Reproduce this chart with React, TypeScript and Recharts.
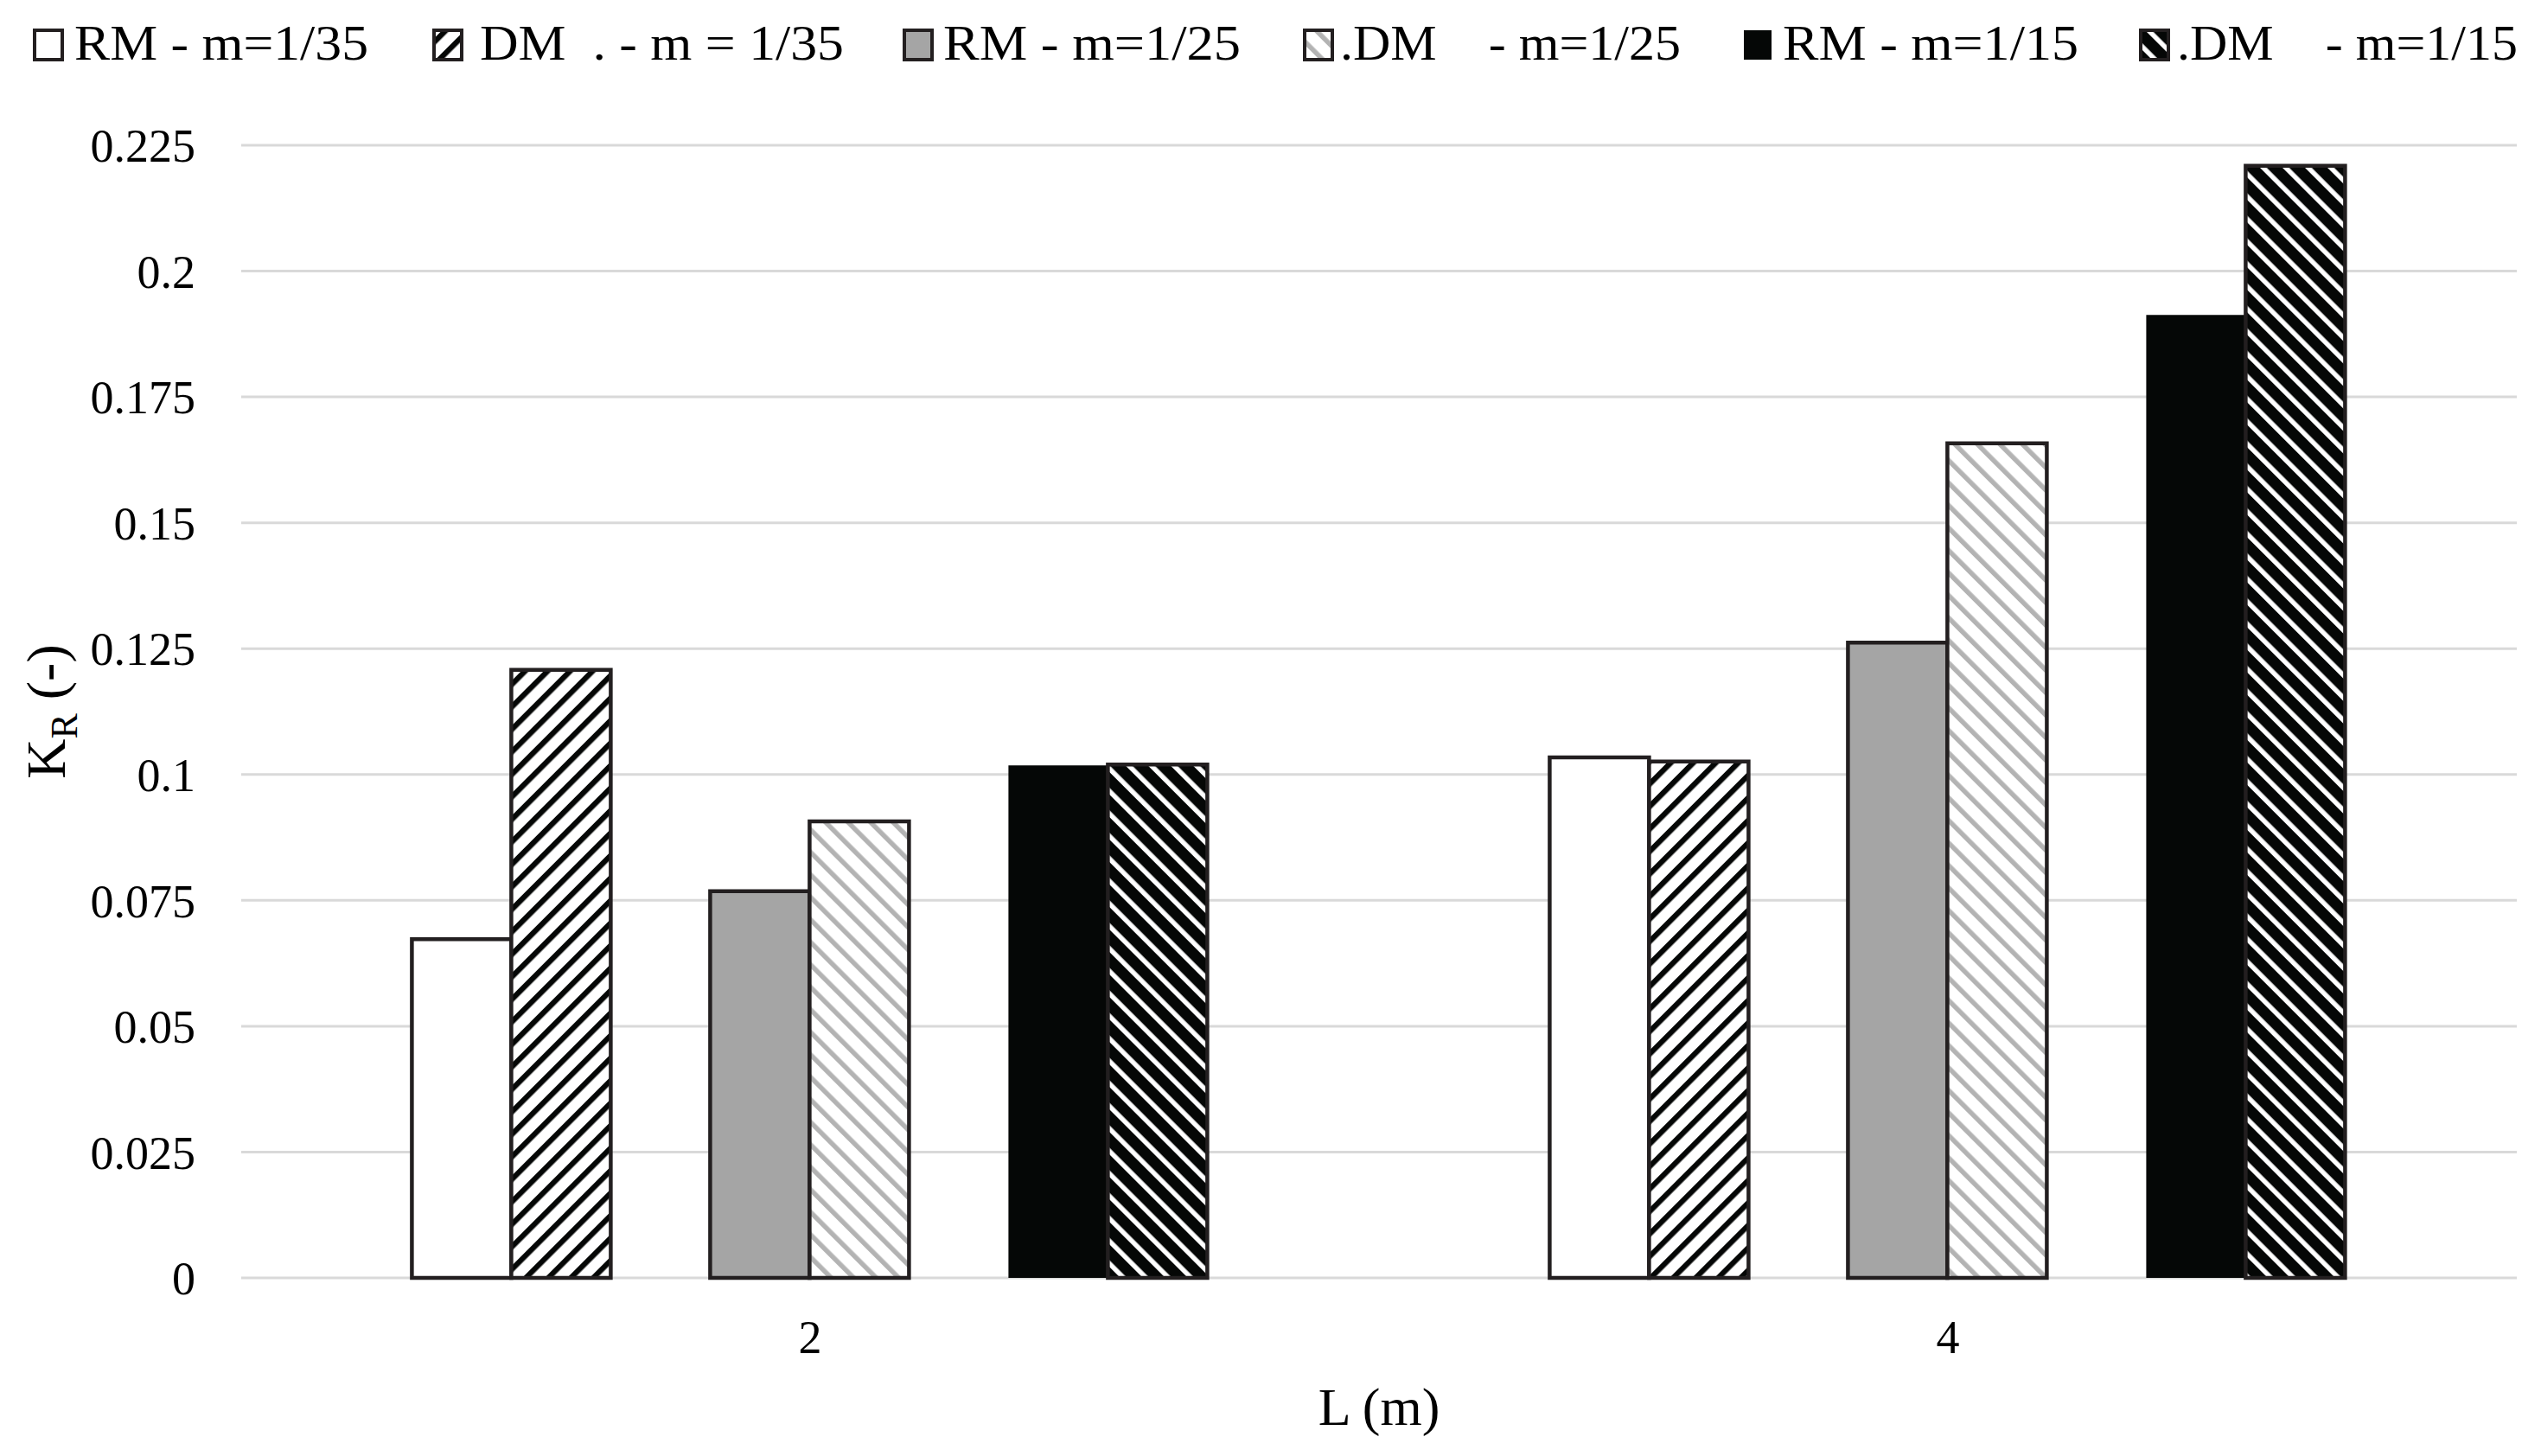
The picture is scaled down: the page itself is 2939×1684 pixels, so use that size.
import React from "react";
import { BarChart, Bar, XAxis, YAxis, CartesianGrid, Label } from "recharts";

// ---- data ----
const categories = ["2", "4"];
const rm35 = [0.0673, 0.1034];
const dm35 = [0.1208, 0.1026];
const rm25 = [0.0768, 0.1262];
const dm25 = [0.0907, 0.1658];
const rm15 = [0.1018, 0.1913];
const dm15 = [0.102, 0.2209];
const yTicks = [0, 0.025, 0.05, 0.075, 0.1, 0.125, 0.15, 0.175, 0.2, 0.225];
const legendLabels = [
  "RM - m=1/35",
  "DM  . - m = 1/35",
  "RM - m=1/25",
  ".DM    - m=1/25",
  "RM - m=1/15",
  ".DM    - m=1/15",
];

const data = categories.map((c, i) => ({
  L: c,
  rm35: rm35[i],
  dm35: dm35[i],
  rm25: rm25[i],
  dm25: dm25[i],
  rm15: rm15[i],
  dm15: dm15[i],
}));

// ---- styles / layout ----
const W = 2939;
const H = 1684;
const FONT = '"Liberation Serif", "DejaVu Serif", serif';
const STROKE = "#231f20";
const BLACK = "#050706";
const GRAY = "#a5a5a5";
const LIGHT = "#b3b3b3";
const GRID = "#d9d9d9";

const legendFills = [
  "#ffffff",
  "url(#lg-up)",
  GRAY,
  "url(#lg-gray)",
  BLACK,
  "url(#lg-dark)",
];
const legendSwatchX = [40, 502, 1046, 1509, 2017, 2476];
const legendTextX = [86, 555, 1091, 1550, 2062, 2518];
const legendTextW = [340, 421, 344, 394, 342, 394];

const P = 18.4;

function patternDefs(prefix: string) {
  return [
    <pattern
      key="up"
      id={`${prefix}-up`}
      patternUnits="userSpaceOnUse"
      width={P}
      height={P}
      patternTransform="rotate(45)"
    >
      <rect width={P} height={P} fill="#ffffff" />
      <rect width={6.3} height={P} fill={BLACK} />
    </pattern>,
    <pattern
      key="gray"
      id={`${prefix}-gray`}
      patternUnits="userSpaceOnUse"
      width={P}
      height={P}
      patternTransform="rotate(-45)"
    >
      <rect width={P} height={P} fill="#ffffff" />
      <rect width={5.5} height={P} fill={LIGHT} />
    </pattern>,
    <pattern
      key="dark"
      id={`${prefix}-dark`}
      patternUnits="userSpaceOnUse"
      width={P}
      height={P}
      patternTransform="rotate(-45)"
    >
      <rect width={P} height={P} fill={BLACK} />
      <rect width={5.5} height={P} fill="#ffffff" />
    </pattern>,
  ];
}

function LegendRow() {
  return (
    <svg
      width={W}
      height={110}
      style={{ position: "absolute", left: 0, top: 0, fontFamily: FONT }}
    >
      <defs>{patternDefs("lg")}</defs>
      {legendLabels.map((lab, i) => (
        <g key={lab + i}>
          <rect
            x={legendSwatchX[i]}
            y={35}
            width={32}
            height={34}
            fill={legendFills[i]}
            stroke={i === 4 ? "none" : STROKE}
            strokeWidth={4}
          />
          <text
            x={legendTextX[i]}
            y={69}
            fontSize={57}
            fill="#000"
            textLength={legendTextW[i]}
            lengthAdjust="spacingAndGlyphs"
            style={{ whiteSpace: "pre" }}
          >
            {lab}
          </text>
        </g>
      ))}
    </svg>
  );
}

const YAxisTitle = (props: any) => {
  const vb = props.viewBox || { x: 20, y: 168, width: 259, height: 1310 };
  const cx = vb.x + 55;
  const cy = vb.y + vb.height / 2;
  return (
    <text
      x={cx}
      y={cy}
      transform={`rotate(-90 ${cx} ${cy})`}
      textAnchor="middle"
      fontSize={64}
      fill="#000"
      fontFamily={FONT}
    >
      K
      <tspan fontSize={44} dy={14}>
        R
      </tspan>
      <tspan dy={-14}> (-)</tspan>
    </text>
  );
};

export default function App() {
  return (
    <div
      style={{
        position: "absolute",
        left: 0,
        top: 0,
        width: W,
        height: H,
        background: "#fff",
        fontFamily: FONT,
      }}
    >
      <BarChart
        width={W}
        height={H}
        data={data}
        margin={{ top: 168, right: 28, left: 20, bottom: 28 }}
        barCategoryGap="15%"
        barGap={0}
        style={{ fontFamily: FONT }}
      >
        <defs>
          <pattern
            id="bp-up"
            patternUnits="userSpaceOnUse"
            width={P}
            height={P}
            patternTransform="rotate(45)"
          >
            <rect width={P} height={P} fill="#ffffff" />
            <rect width={6.3} height={P} fill={BLACK} />
          </pattern>
          <pattern
            id="bp-gray"
            patternUnits="userSpaceOnUse"
            width={P}
            height={P}
            patternTransform="rotate(-45)"
          >
            <rect width={P} height={P} fill="#ffffff" />
            <rect width={5.5} height={P} fill={LIGHT} />
          </pattern>
          <pattern
            id="bp-dark"
            patternUnits="userSpaceOnUse"
            width={P}
            height={P}
            patternTransform="rotate(-45)"
          >
            <rect width={P} height={P} fill={BLACK} />
            <rect width={5.5} height={P} fill="#ffffff" />
          </pattern>
        </defs>
        <CartesianGrid vertical={false} stroke={GRID} strokeWidth={3} />
        <XAxis
          dataKey="L"
          axisLine={false}
          tickLine={false}
          tickSize={0}
          tickMargin={49}
          height={178}
          tick={{ fill: "#000", fontSize: 54, fontFamily: FONT }}
        >
          <Label
            value="L (m)"
            position="insideBottom"
            offset={8}
            fontSize={62}
            fill="#000"
            fontFamily={FONT}
          />
        </XAxis>
        <YAxis
          domain={[0, 0.225]}
          ticks={yTicks}
          interval={0}
          axisLine={false}
          tickLine={false}
          tickSize={0}
          tickMargin={53}
          width={259}
          tickFormatter={(v: number) => String(v)}
          tick={{ fill: "#000", fontSize: 54, fontFamily: FONT }}
        >
          <Label content={<YAxisTitle />} />
        </YAxis>
        <Bar dataKey="rm35" name={legendLabels[0]} fill="#ffffff" stroke={STROKE} strokeWidth={4.5} isAnimationActive={false} />
        <Bar dataKey="dm35" name={legendLabels[1]} fill="url(#bp-up)" stroke={STROKE} strokeWidth={4.5} isAnimationActive={false} />
        <Bar dataKey="gap1" legendType="none" fill="none" isAnimationActive={false} />
        <Bar dataKey="rm25" name={legendLabels[2]} fill={GRAY} stroke={STROKE} strokeWidth={4.5} isAnimationActive={false} />
        <Bar dataKey="dm25" name={legendLabels[3]} fill="url(#bp-gray)" stroke={STROKE} strokeWidth={4.5} isAnimationActive={false} />
        <Bar dataKey="gap2" legendType="none" fill="none" isAnimationActive={false} />
        <Bar dataKey="rm15" name={legendLabels[4]} fill={BLACK} stroke="none" isAnimationActive={false} />
        <Bar dataKey="dm15" name={legendLabels[5]} fill="url(#bp-dark)" stroke={STROKE} strokeWidth={4.5} isAnimationActive={false} />
      </BarChart>
      <LegendRow />
    </div>
  );
}
